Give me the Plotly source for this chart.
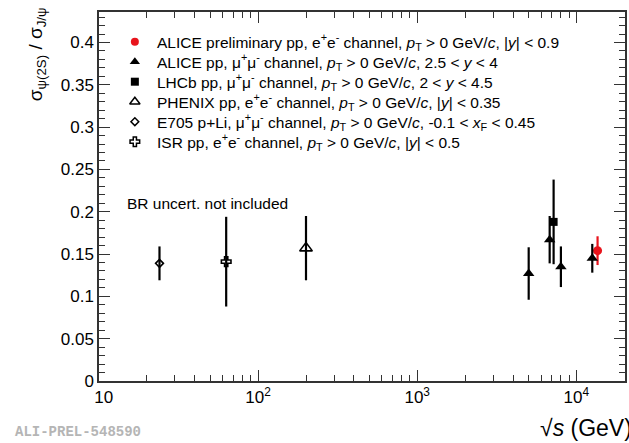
import plotly.graph_objects as go

# psi(2S)/J/psi cross-section ratio vs centre-of-mass energy
alice_prel_x = [13600]
alice_prel_y = [0.154]
alice_prel_err = [0.017]

alice_mu_x = [5020, 6800, 8000, 12600]
alice_mu_y = [0.127, 0.167, 0.135, 0.145]
alice_mu_err = [0.031, 0.028, 0.024, 0.017]

lhcb_x = [7200]
lhcb_y = [0.188]
lhcb_err = [0.050]

phenix_x = [200]
phenix_y = [0.157]
phenix_err = [0.038]

e705_x = [24]
e705_y = [0.139]
e705_err = [0.020]

isr_x = [63]
isr_y = [0.141]
isr_err = [0.053]

names = [
    "ALICE preliminary pp, e<sup>+</sup>e<sup>-</sup> channel, <i>p</i><sub>T</sub> &gt; 0 GeV/<i>c</i>, |<i>y</i>| &lt; 0.9",
    "ALICE pp, μ<sup>+</sup>μ<sup>-</sup> channel, <i>p</i><sub>T</sub> &gt; 0 GeV/<i>c</i>, 2.5 &lt; <i>y</i> &lt; 4",
    "LHCb pp, μ<sup>+</sup>μ<sup>-</sup> channel, <i>p</i><sub>T</sub> &gt; 0 GeV/<i>c</i>, 2 &lt; <i>y</i> &lt; 4.5",
    "PHENIX pp, e<sup>+</sup>e<sup>-</sup> channel, <i>p</i><sub>T</sub> &gt; 0 GeV/<i>c</i>, |<i>y</i>| &lt; 0.35",
    "E705 p+Li, μ<sup>+</sup>μ<sup>-</sup> channel, <i>p</i><sub>T</sub> &gt; 0 GeV/<i>c</i>, -0.1 &lt; <i>x</i><sub>F</sub> &lt; 0.45",
    "ISR pp, e<sup>+</sup>e<sup>-</sup> channel, <i>p</i><sub>T</sub> &gt; 0 GeV/<i>c</i>, |<i>y</i>| &lt; 0.5",
]

# (x, y, err, symbol, size, colour, legend symbol size)
series = [
    (alice_prel_x, alice_prel_y, alice_prel_err, "circle", 9, "#e8141c", 8),
    (alice_mu_x, alice_mu_y, alice_mu_err, "triangle-up", 10, "black", 9),
    (lhcb_x, lhcb_y, lhcb_err, "square", 8, "black", 8),
    (phenix_x, phenix_y, phenix_err, "triangle-up-open", 11, "black", 9),
    (e705_x, e705_y, e705_err, "diamond-open", 6, "black", 6),
    (isr_x, isr_y, isr_err, "cross-open", 8, "black", 8),
]

W, H = 629, 443
ML, MR, MT, MB = 99, 2, 12, 62
PW, PH = W - ML - MR, H - MT - MB


def px_x(px):
    return (px - ML) / PW


def px_y(py):
    return (H - MB - py) / PH


fig = go.Figure()
for i, (xs, ys, es, sym, size, col, lsize) in enumerate(series):
    fig.add_trace(go.Scatter(
        x=xs, y=ys, mode="markers", showlegend=False,
        marker=dict(symbol=sym, size=size, color=col,
                    line=dict(color=col, width=1.6 if "open" in sym else 0)),
        error_y=dict(type="data", array=es, visible=True, color=col,
                     thickness=2.2, width=0),
    ))

font = "Liberation Sans, Arial, Helvetica, sans-serif"

# Legend block: symbols on a unit overlay axis, labels as annotations
leg_x_sym, leg_x_txt = px_x(135), px_x(155)
leg_top, leg_step = 41.7, 20.0
for i, (xs, ys, es, sym, size, col, lsize) in enumerate(series):
    yrow = px_y(leg_top + i * leg_step)
    fig.add_trace(go.Scatter(
        x=[leg_x_sym], y=[yrow], xaxis="x2", yaxis="y2", mode="markers",
        showlegend=False, hoverinfo="skip",
        marker=dict(symbol=sym, size=lsize, color=col,
                    line=dict(color=col, width=1.5 if "open" in sym else 0)),
    ))
    fig.add_annotation(
        text=names[i], xref="paper", yref="paper", x=leg_x_txt, y=yrow,
        xanchor="left", yanchor="middle", showarrow=False,
        font=dict(family=font, size=15.5, color="black"),
    )

minor_x = [m * 10 ** d for d in range(1, 5) for m in range(2, 10)]

fig.update_layout(
    width=W, height=H,
    margin=dict(l=ML, r=MR, t=MT, b=MB),
    paper_bgcolor="white", plot_bgcolor="white",
    font=dict(family=font, color="black", size=17),
    showlegend=False,
    xaxis=dict(
        type="log", range=[1, 4.306],
        tickvals=[10, 100, 1000, 10000],
        ticktext=["\u00a0\u00a010", "10<sup>2</sup>", "10<sup>3</sup>", "10<sup>4</sup>"],
        ticks="inside", ticklen=11, tickwidth=1, tickcolor="#333",
        showline=True, linecolor="#333", linewidth=1.5, mirror="allticks",
        showgrid=False, zeroline=False,
        minor=dict(tickmode="array", tickvals=minor_x, ticks="inside",
                   ticklen=6, tickwidth=1, tickcolor="#333", showgrid=False),
        tickfont=dict(size=17),
    ),
    yaxis=dict(
        range=[0, 0.436], tick0=0, dtick=0.05,
        ticks="inside", ticklen=11, tickwidth=1, tickcolor="#333",
        showline=True, linecolor="#333", linewidth=1.5, mirror="allticks",
        showgrid=False, zeroline=False,
        minor=dict(dtick=0.01, ticks="inside", ticklen=6, tickwidth=1,
                   tickcolor="#333", showgrid=False),
        tickfont=dict(size=17),
    ),
    xaxis2=dict(overlaying="x", range=[0, 1], visible=False, fixedrange=True),
    yaxis2=dict(overlaying="y", range=[0, 1], visible=False, fixedrange=True),
)

fig.add_annotation(
    text="BR uncert. not included", xref="paper", yref="paper",
    x=px_x(125), y=px_y(203), xanchor="left", yanchor="middle", showarrow=False,
    font=dict(family=font, size=15.5, color="black"),
)
fig.add_annotation(
    text="√<i>s</i> (GeV)", xref="paper", yref="paper",
    x=px_x(540), y=px_y(428), xanchor="left", yanchor="middle", showarrow=False,
    font=dict(family=font, size=23, color="black"),
)
fig.add_annotation(
    text="σ<sub>ψ(2S)</sub> / σ<sub>J/ψ</sub>", xref="paper", yref="paper",
    x=px_x(37), y=px_y(54), xanchor="center", yanchor="middle", textangle=-90,
    showarrow=False, font=dict(family=font, size=19, color="black"),
)
fig.add_annotation(
    text="<b>ALI-PREL-548590</b>", xref="paper", yref="paper",
    x=px_x(13), y=px_y(432), xanchor="left", yanchor="middle", showarrow=False,
    font=dict(family="Liberation Mono, Courier New, monospace", size=14,
              color="#b5b5b5"),
)

fig.write_html("out.html")
